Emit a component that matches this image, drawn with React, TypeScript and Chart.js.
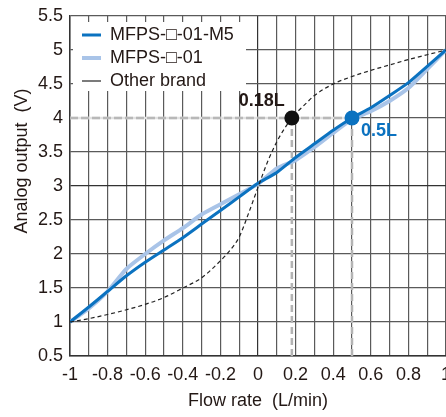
import React, { useEffect, useRef } from 'react';
import { Chart, registerables } from 'chart.js';

Chart.register(...registerables);

// ---- data ----
const flowRate = [-1, -0.9, -0.8, -0.7, -0.6, -0.5, -0.4, -0.3, -0.2, -0.1, 0, 0.1, 0.2, 0.3, 0.4, 0.5, 0.6, 0.7, 0.8, 0.9, 1];
const m5Output = [1.0, 1.22, 1.45, 1.68, 1.88, 2.06, 2.24, 2.44, 2.64, 2.84, 3.04, 3.2, 3.42, 3.62, 3.82, 4.0, 4.15, 4.33, 4.52, 4.76, 5.0];
const mfpsOutput = [1.0, 1.2, 1.45, 1.78, 2.0, 2.2, 2.38, 2.58, 2.73, 2.88, 3.03, 3.26, 3.38, 3.57, 3.78, 3.98, 4.1, 4.25, 4.44, 4.72, 5.0];
const otherFlow = [-1, -0.9, -0.8, -0.7, -0.6, -0.5, -0.4, -0.3, -0.2, -0.15, -0.1, -0.05, 0, 0.05, 0.1, 0.14, 0.18, 0.25, 0.3, 0.4, 0.5, 0.6, 0.7, 0.8, 0.9, 1];
const otherOutput = [1.0, 1.05, 1.11, 1.18, 1.26, 1.36, 1.5, 1.65, 1.9, 2.05, 2.25, 2.6, 2.98, 3.35, 3.65, 3.84, 4.0, 4.2, 4.33, 4.5, 4.61, 4.7, 4.78, 4.86, 4.93, 5.0];
const markerFlow = [0.18, 0.5];
const markerOutput = [4, 4];
const markerLabels = ['0.18L', '0.5L'];
const seriesNames = ['MFPS-\u25A1-01-M5', 'MFPS-\u25A1-01', 'Other brand'];
const xMin = -1;
const xMax = 1;
const yMin = 0.5;
const yMax = 5.5;
const xTitle = 'Flow rate  (L/min)';
const yTitle = 'Analog output  (V)';

const BLUE = '#0b72c0';
const LIGHT = '#a9c4e8';
const INK = '#231815';
const GRID = '#5a5a5a';
const FONT = '"Liberation Sans", Arial, Helvetica, sans-serif';

const toPts = (xs: number[], ys: number[]) => xs.map((x, i) => ({ x, y: ys[i] }));

const legendBg = {
  id: 'legendBg',
  beforeDatasetsDraw(chart: any) {
    const { ctx, chartArea } = chart;
    ctx.save();
    ctx.fillStyle = '#ffffff';
    ctx.fillRect(chartArea.left + 3, chartArea.top + 6, 173, 69);
    ctx.restore();
    if (chart.legend) chart.legend.draw();
  },
  afterLayout(chart: any) {
    if (chart.legend) {
      chart.legend.left = chart.chartArea.left + 7;
      chart.legend.top = chart.chartArea.top + 5;
    }
  },
};

const annotate = {
  id: 'annotate',
  afterDatasetsDraw(chart: any) {
    const { ctx } = chart;
    const xs = chart.scales.x;
    const ys = chart.scales.y;
    ctx.save();
    ctx.font = `bold 18px ${FONT}`;
    ctx.textBaseline = 'middle';
    const px0 = xs.getPixelForValue(markerFlow[0]);
    const py0 = ys.getPixelForValue(markerOutput[0]);
    ctx.fillStyle = INK;
    ctx.textAlign = 'right';
    ctx.fillText(markerLabels[0], px0 - 7, py0 - 17);
    const px1 = xs.getPixelForValue(markerFlow[1]);
    const py1 = ys.getPixelForValue(markerOutput[1]);
    ctx.fillStyle = BLUE;
    ctx.textAlign = 'left';
    ctx.fillText(markerLabels[1], px1 + 9, py1 + 13);
    ctx.restore();
  },
};

export default function App() {
  const ref = useRef<HTMLCanvasElement | null>(null);

  useEffect(() => {
    document.body.style.margin = '0';
    const canvas = ref.current;
    if (!canvas) return;

    const hLine = [
      { x: xMin, y: markerOutput[0] },
      { x: markerFlow[1], y: markerOutput[1] },
    ];
    const vLine0 = [
      { x: markerFlow[0], y: markerOutput[0] },
      { x: markerFlow[0], y: yMin },
    ];
    const vLine1 = [
      { x: markerFlow[1], y: markerOutput[1] },
      { x: markerFlow[1], y: yMin },
    ];

    const chart = new Chart(canvas, {
      type: 'line',
      data: {
        datasets: [
          {
            label: seriesNames[0],
            data: toPts(flowRate, m5Output),
            borderColor: BLUE,
            backgroundColor: BLUE,
            borderWidth: 3,
            pointRadius: 0,
            tension: 0.2,
            order: 2,
          },
          {
            label: seriesNames[1],
            data: toPts(flowRate, mfpsOutput),
            borderColor: LIGHT,
            backgroundColor: LIGHT,
            borderWidth: 4,
            pointRadius: 0,
            tension: 0.2,
            order: 3,
          },
          {
            label: seriesNames[2],
            data: toPts(otherFlow, otherOutput),
            borderColor: '#222222',
            backgroundColor: '#222222',
            borderWidth: 1.2,
            borderDash: [4, 3],
            pointRadius: 0,
            cubicInterpolationMode: 'monotone',
            order: 1,
          },
          {
            label: 'h-base',
            data: hLine,
            borderColor: '#e2e2e2',
            borderWidth: 2.5,
            pointRadius: 0,
            order: 7,
          },
          {
            label: 'h-dash',
            data: hLine,
            borderColor: '#b8b8b8',
            borderWidth: 2.5,
            borderDash: [8, 3],
            pointRadius: 0,
            order: 6,
          },
          {
            label: 'v0',
            data: vLine0,
            borderColor: '#b4b4b4',
            borderWidth: 2.5,
            borderDash: [7, 4],
            pointRadius: 0,
            order: 5,
          },
          {
            label: 'v1',
            data: vLine1,
            borderColor: '#b4b4b4',
            borderWidth: 2.5,
            borderDash: [7, 4],
            pointRadius: 0,
            order: 5,
          },
          {
            label: 'm0',
            data: [{ x: markerFlow[0], y: markerOutput[0] }],
            showLine: false,
            pointRadius: 7.5,
            pointHoverRadius: 7.5,
            pointBackgroundColor: '#111111',
            pointBorderWidth: 0,
            borderColor: '#111111',
            order: 0,
          },
          {
            label: 'm1',
            data: [{ x: markerFlow[1], y: markerOutput[1] }],
            showLine: false,
            pointRadius: 7.5,
            pointHoverRadius: 7.5,
            pointBackgroundColor: BLUE,
            pointBorderWidth: 0,
            borderColor: BLUE,
            order: 0,
          },
        ],
      },
      options: {
        responsive: false,
        maintainAspectRatio: false,
        animation: false,
        devicePixelRatio: 1,
        layout: { autoPadding: false, padding: { top: 16, right: 0, left: 0, bottom: 0 } },
        font: { family: FONT, size: 18 },
        color: INK,
        plugins: {
          tooltip: { enabled: false },
          legend: {
            position: 'chartArea',
            align: 'start',
            labels: {
              usePointStyle: true,
              pointStyle: 'line',
              pointStyleWidth: 19,
              boxHeight: 18,
              padding: 5,
              color: INK,
              font: { family: FONT, size: 18 },
              filter: (item: any) => item.datasetIndex < 3,
              sort: (a: any, b: any) => a.datasetIndex - b.datasetIndex,
            },
          },
        },
        scales: {
          x: {
            type: 'linear',
            min: xMin,
            max: xMax,
            border: { display: true, color: '#333333', width: 1.5 },
            grid: {
              drawTicks: false,
              color: (c: any) => (c.tick && Math.abs(c.tick.value) < 1e-9 ? '#333333' : GRID),
              lineWidth: 1.2,
            },
            ticks: {
              stepSize: 0.1,
              autoSkip: false,
              maxRotation: 0,
              padding: 8,
              color: INK,
              font: { family: FONT, size: 18 },
              callback: (v: any) => {
                const t = Math.round(Number(v) * 10);
                return t % 2 === 0 ? String(t / 10) : '';
              },
            },
            title: {
              display: true,
              text: xTitle,
              color: INK,
              font: { family: FONT, size: 18 },
              padding: { top: 0, bottom: 5 },
            },
            afterFit: (s: any) => {
              s.height = 61;
              s.paddingLeft = 0;
              s.paddingRight = 0;
            },
          },
          y: {
            type: 'linear',
            min: yMin,
            max: yMax,
            border: { display: true, color: '#333333', width: 1.5 },
            grid: {
              drawTicks: false,
              color: (c: any) => (c.tick && Math.abs(c.tick.value - 3) < 1e-9 ? '#333333' : GRID),
              lineWidth: 1.2,
            },
            ticks: {
              stepSize: 0.5,
              autoSkip: false,
              padding: 7,
              color: INK,
              font: { family: FONT, size: 18 },
              callback: (v: any) => String(Number(v)),
            },
            title: {
              display: true,
              text: '\u00A0'.repeat(10) + yTitle,
              color: INK,
              font: { family: FONT, size: 18 },
              padding: { top: 11, bottom: 11 },
            },
            afterFit: (s: any) => {
              s.width = 70;
              s.paddingTop = 0;
              s.paddingBottom = 0;
            },
          },
        },
      },
      plugins: [legendBg, annotate],
    } as any);

    return () => chart.destroy();
  }, []);

  return <canvas ref={ref} width={446} height={417} style={{ display: 'block' }} />;
}
